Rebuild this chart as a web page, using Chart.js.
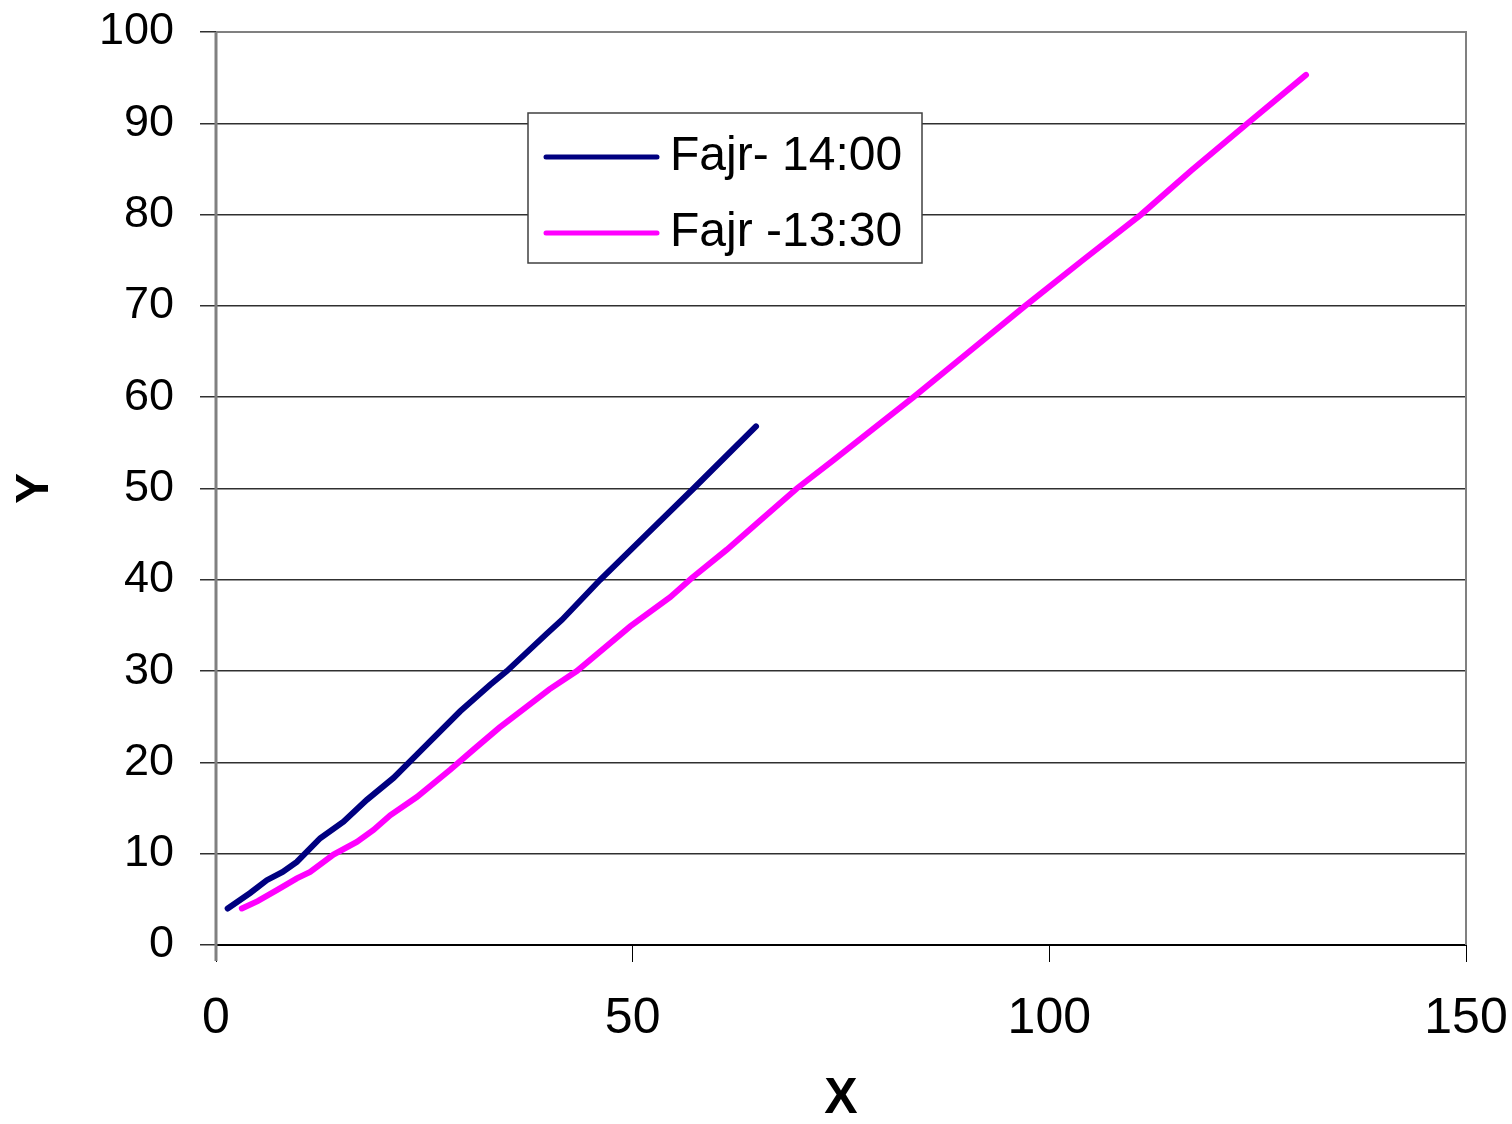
<!DOCTYPE html>
<html>
<head>
<meta charset="utf-8">
<script src="https://cdn.jsdelivr.net/npm/chart.js@4.4.0/dist/chart.umd.min.js"></script>
<style>
  html, body { margin: 0; padding: 0; background: #fff; }
  #wrap { width: 1512px; height: 1124px; }
</style>
</head>
<body>
<div id="wrap"><canvas id="fajrChart" width="1512" height="1124"></canvas></div>
<script>
// series as (x, y) pairs
const fajr1400X = [1.4, 4.1, 6.1, 8.0, 9.7, 12.5, 15.3, 18.1, 21.3, 24.7, 29.3, 32.9, 34.9, 39.7, 41.5, 46.1, 51.7, 57.3, 64.8];
const fajr1400Y = [4.0, 5.7, 7.1, 8.0, 9.1, 11.7, 13.5, 15.9, 18.3, 21.4, 25.6, 28.5, 30.0, 34.1, 35.6, 40.0, 45.0, 50.0, 56.8];

const fajr1330X = [3.1, 5.0, 7.3, 9.7, 11.3, 14.1, 16.9, 18.9, 20.9, 24.1, 28.1, 30.9, 34.0, 37.3, 40.0, 43.3, 49.7, 54.5, 57.1, 61.3, 65.3, 69.7, 74.1, 83.7, 90.0, 97.1, 104.0, 111.0, 117.0, 123.8, 130.8];
const fajr1330Y = [4.0, 4.8, 6.0, 7.3, 8.0, 9.9, 11.3, 12.6, 14.2, 16.2, 19.2, 21.4, 23.8, 26.1, 28.0, 30.0, 34.9, 38.1, 40.2, 43.3, 46.5, 50.0, 53.1, 60.0, 64.7, 70.0, 75.0, 80.0, 84.8, 90.0, 95.3];

const seriesLabels = ["Fajr- 14:00", "Fajr -13:30"];
const xTicks = [0, 50, 100, 150];
const yTicks = [0, 10, 20, 30, 40, 50, 60, 70, 80, 90, 100];

function pairs(xs, ys) {
  return xs.map((x, i) => ({ x: x, y: ys[i] }));
}

const FONT = "'Liberation Sans', Arial, sans-serif";

// plot frame + legend box inside the plot
const framePlugin = {
  id: "frame",
  beforeDatasetsDraw(chart) {
    const { ctx, chartArea: a } = chart;
    ctx.save();
    ctx.strokeStyle = "#808080";
    ctx.lineWidth = 2;
    ctx.beginPath();
    ctx.moveTo(a.left, a.top);
    ctx.lineTo(a.right, a.top);
    ctx.lineTo(a.right, a.bottom);
    ctx.stroke();
    ctx.lineWidth = 3;
    ctx.beginPath();
    ctx.moveTo(a.left, a.top);
    ctx.lineTo(a.left, a.bottom + 16);
    ctx.stroke();
    ctx.restore();
  },
  afterDraw(chart) {
    const ctx = chart.ctx;
    const bx = 528, by = 113, bw = 394, bh = 150;
    ctx.save();
    ctx.fillStyle = "#fff";
    ctx.fillRect(bx, by, bw, bh);
    ctx.strokeStyle = "#404040";
    ctx.lineWidth = 1.5;
    ctx.strokeRect(bx, by, bw, bh);
    ctx.font = "48px " + FONT;
    ctx.textBaseline = "middle";
    ctx.lineCap = "round";
    chart.data.datasets.forEach((ds, i) => {
      const yy = by + 44 + i * 76;
      ctx.strokeStyle = ds.borderColor;
      ctx.lineWidth = 5;
      ctx.beginPath();
      ctx.moveTo(546, yy);
      ctx.lineTo(657, yy);
      ctx.stroke();
      ctx.fillStyle = "#000";
      ctx.fillText(ds.label, 670, yy);
    });
    ctx.restore();
  }
};

window.onload = function () {
  const ctx = document.getElementById("fajrChart").getContext("2d");
  new Chart(ctx, {
    type: "line",
    data: {
      datasets: [
        {
          label: seriesLabels[0],
          data: pairs(fajr1400X, fajr1400Y),
          borderColor: "#000080",
          borderWidth: 6,
          pointRadius: 0,
          borderCapStyle: "round",
          fill: false,
        },
        {
          label: seriesLabels[1],
          data: pairs(fajr1330X, fajr1330Y),
          borderColor: "#ff00ff",
          borderWidth: 6,
          pointRadius: 0,
          borderCapStyle: "round",
          fill: false,
        },
      ],
    },
    options: {
      responsive: false,
      animation: false,
      layout: { padding: { left: 0, top: 32, right: 46, bottom: 0 } },
      plugins: {
        legend: { display: false },
        tooltip: { enabled: false },
      },
      scales: {
        x: {
          type: "linear",
          min: 0,
          max: 150,
          afterBuildTicks: (s) => { s.ticks = xTicks.map(v => ({ value: v })); },
          afterFit: (s) => { s.height = 179; s.paddingLeft = 0; s.paddingRight = 0; },
          grid: { drawOnChartArea: false, drawTicks: true, tickLength: 17, color: "#000", lineWidth: 1 },
          border: { display: true, color: "#000", width: 2 },
          ticks: { color: "#000", font: { family: FONT, size: 50 }, padding: 27, maxRotation: 0 },
          title: { display: true, text: "X", color: "#000", font: { family: FONT, size: 50, weight: "bold", lineHeight: 1 }, padding: { top: 0, bottom: 0 } },
        },
        y: {
          type: "linear",
          min: 0,
          max: 100,
          afterBuildTicks: (s) => { s.ticks = yTicks.map(v => ({ value: v })); },
          afterFit: (s) => { s.width = 216; s.paddingTop = 0; s.paddingBottom = 0; },
          grid: { drawTicks: true, tickLength: 16, color: "#303030", lineWidth: 1.5 },
          border: { display: false },
          ticks: { color: "#000", font: { family: FONT, size: 45 }, padding: 26 },
          title: { display: true, text: "Y", color: "#000", font: { family: FONT, size: 46, weight: "bold" }, padding: { top: 8, bottom: 0 } },
        },
      },
    },
    plugins: [framePlugin],
  });
};
</script>
</body>
</html>
